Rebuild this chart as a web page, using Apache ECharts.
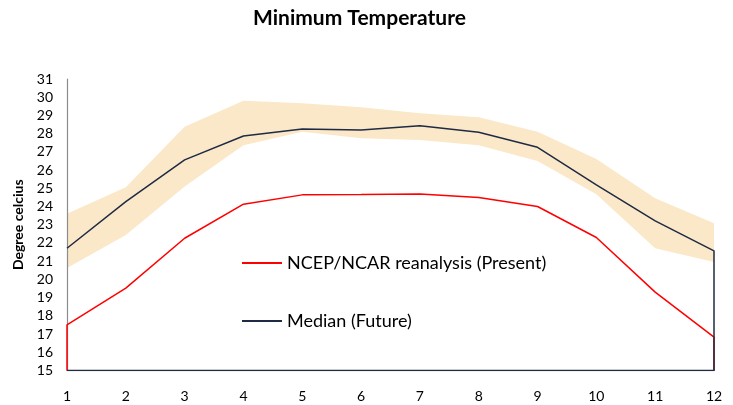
<!DOCTYPE html>
<html><head><meta charset="utf-8">
<script src="https://cdn.jsdelivr.net/npm/echarts@6/dist/echarts.min.js"></script>
<style>html,body{margin:0;padding:0;background:#fff}#c{width:733px;height:405px}</style>
</head><body><div id="c"></div>
<script>
var months = [1,2,3,4,5,6,7,8,9,10,11,12];
var present = [17.5,19.52,22.26,24.13,24.64,24.66,24.69,24.49,24.0,22.3,19.3,16.83];
var median  = [21.71,24.27,26.56,27.87,28.26,28.2,28.44,28.08,27.25,25.19,23.21,21.57];
var bandLow = [20.62,22.44,25.1,27.36,28.1,27.75,27.65,27.36,26.5,24.68,21.71,20.95];
var bandHigh= [23.6,25.06,28.38,29.8,29.67,29.45,29.12,28.9,28.11,26.61,24.46,23.08];
var yTicks = {min:15, max:31, step:1};
var baseY = yTicks.min;

function pairs(vals){ return months.map(function(m,i){return [m, vals[i]];}); }
var presentData = [[months[0], baseY]].concat(pairs(present)).concat([[months[months.length-1], baseY]]);
var medianData = pairs(median).concat([[months[months.length-1], baseY],[months[0], baseY]]);

var font = 'Lato, "Open Sans", sans-serif';
var chart = echarts.init(document.getElementById('c'));
chart.setOption({
  animation:false,
  title:{text:'Minimum Temperature', left:248, top:3, textStyle:{fontFamily:font, fontWeight:'bold', fontSize:21, color:'#000'}},
  grid:{left:67, right:19, top:79, bottom:34.5},
  legend:{
    orient:'vertical', left:237, top:248, itemWidth:40, itemHeight:2, itemGap:38,
    icon:'rect',
    textStyle:{fontFamily:font, fontSize:18, color:'#000', lineHeight:20},
    data:['NCEP/NCAR reanalysis (Present)','Median (Future)']
  },
  xAxis:{type:'value', min:1, max:12, interval:1, z:5,
    axisLine:{lineStyle:{color:'#8c8c8c', width:1.2}}, axisTick:{show:false}, splitLine:{show:false},
    axisLabel:{color:'#000', fontFamily:font, fontSize:14, margin:19}},
  yAxis:{type:'value', min:yTicks.min, max:yTicks.max, interval:yTicks.step, z:5,
    name:'Degree celcius', nameLocation:'middle', nameRotate:90, nameGap:42,
    nameTextStyle:{fontFamily:font, fontWeight:'bold', fontSize:14, color:'#000'},
    axisLine:{show:true, lineStyle:{color:'#8c8c8c', width:1.2}}, axisTick:{show:false}, splitLine:{show:false},
    axisLabel:{color:'#000', fontFamily:font, fontSize:14, margin:14}},
  series:[
    {name:'high', type:'line', data:pairs(bandHigh), symbol:'none', lineStyle:{width:0, opacity:0}, areaStyle:{color:'#FAE8C8', opacity:1, origin:'start'}, silent:true, z:1},
    {name:'low', type:'line', data:pairs(bandLow), symbol:'none', lineStyle:{width:0, opacity:0}, areaStyle:{color:'#FFFFFF', opacity:1, origin:'start'}, silent:true, z:1},
    {name:'NCEP/NCAR reanalysis (Present)', type:'line', data:presentData, symbol:'none', itemStyle:{color:'#FF0000'}, lineStyle:{color:'#FF0000', width:1.5}, z:6},
    {name:'Median (Future)', type:'line', data:medianData, symbol:'none', itemStyle:{color:'#1F2A44'}, lineStyle:{color:'#1F2A44', width:1.5}, z:7}
  ]
});
</script></body></html>
